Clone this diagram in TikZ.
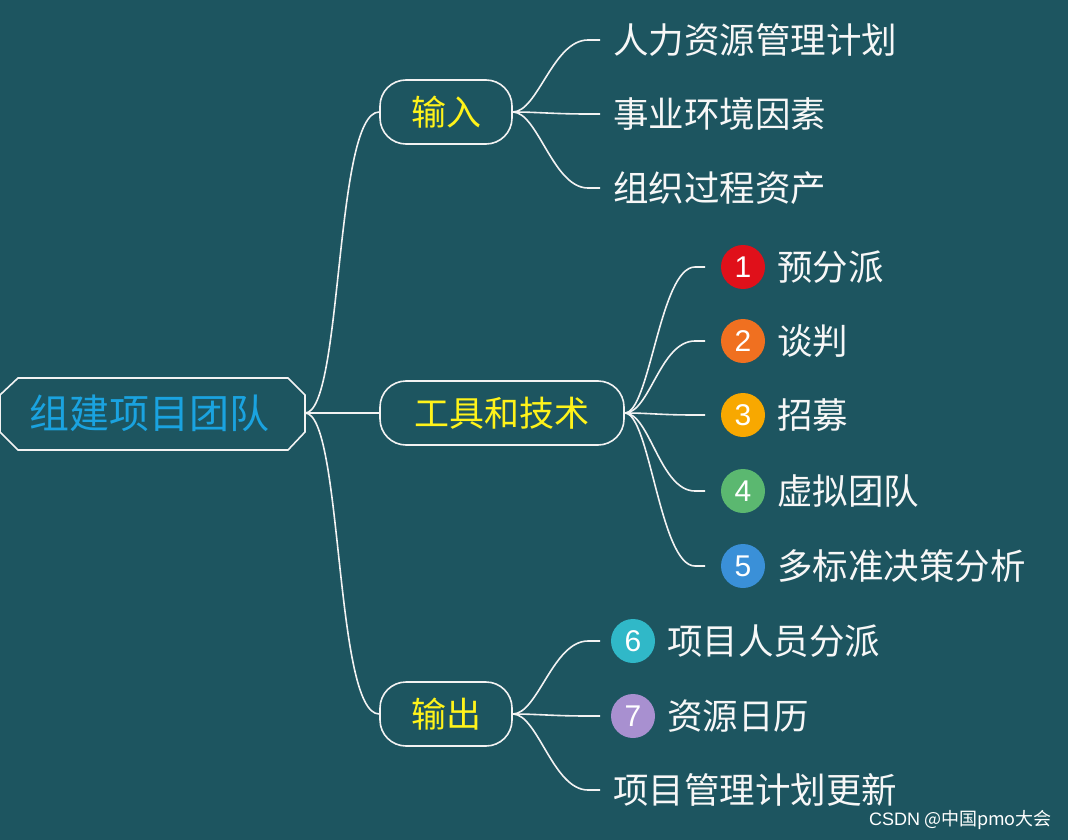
\documentclass[tikz,border=0pt]{standalone}
\usepackage{fontspec}
\setmainfont{Noto Sans CJK SC}
\setsansfont{Liberation Sans}
\begin{document}
\begin{tikzpicture}[x=1pt,y=-1pt,
  line/.style={draw=white!90!gray,line width=1.6pt},
  br/.style={draw=white!90!gray,line width=1.6pt,rounded corners=26pt,minimum height=64pt,text=yellow!90!white,font=\fontsize{35}{36}\selectfont,inner xsep=0pt},
  leaf/.style={anchor=west,text=white!94!gray,font=\fontsize{35.5}{36}\selectfont,inner sep=0pt},
  badge/.style={circle,minimum size=44pt,inner sep=0pt,text=white,font=\sffamily\fontsize{30}{32}\selectfont}]
\definecolor{bg}{HTML}{1D5560}
\definecolor{rootc}{HTML}{1AA3E0}
\fill[bg] (0,0) rectangle (1068,840);
\useasboundingbox (0,0) rectangle (1068,840);
% root
\draw[line] (18,378) -- (288,378) -- (305,395) -- (305,432) -- (288,450) -- (18,450) -- (0,432) -- (0,395) -- cycle;
\node[text=rootc,font=\fontsize{40}{40}\selectfont] (root) at (149,413) {组建项目团队};
\coordinate (r) at (305,413);
% branches
\node[br,minimum width=132pt] (in) at (446,112) {输入};
\node[br,minimum width=244pt] (tt) at (502,413) {工具和技术};
\node[br,minimum width=132pt] (out) at (446,714) {输出};
\foreach \b in {in,tt,out} \draw[line] (r) .. controls +(38,0) and +(-45,0) .. (\b.west);
% input leaves
\foreach \n/\y/\t in {a/40/人力资源管理计划,b/114/事业环境因素,c/188/组织过程资产}{
  \node[leaf] (\n) at (613,\y) {\t};
  \coordinate (\n e) at (588,\y);
  \draw[line] (in.east) .. controls +(25,0) and +(-35,0) .. (\n e) -- ++(12,0);
}
% tools
\definecolor{c1}{HTML}{E0101A}\definecolor{c2}{HTML}{F07020}\definecolor{c3}{HTML}{F8A800}
\definecolor{c4}{HTML}{5BB870}\definecolor{c5}{HTML}{3A90D8}\definecolor{c6}{HTML}{30B8C8}\definecolor{c7}{HTML}{A890D0}
\foreach \n/\y/\t in {1/267/预分派,2/341/谈判,3/415/招募,4/491/虚拟团队,5/566/多标准决策分析}{
  \node[badge,fill=c\n] (b\n) at (743,\y) {\n};
  \node[leaf] (t\n) at (777,\y) {\t};
  \coordinate (k\n) at (695,\y);
  \draw[line] (tt.east) .. controls +(25,0) and +(-35,0) .. (k\n) -- ++(10,0);
}
% outputs
\foreach \n/\y/\t in {6/641/项目人员分派,7/716/资源日历}{
  \node[badge,fill=c\n] (b\n) at (633,\y) {\n};
  \node[leaf] (t\n) at (667,\y) {\t};
  \coordinate (k\n) at (588,\y);
  \draw[line] (out.east) .. controls +(25,0) and +(-35,0) .. (k\n) -- ++(12,0);
}
\node[leaf] (o3) at (613,790) {项目管理计划更新};
\coordinate (k8) at (588,790);
\draw[line] (out.east) .. controls +(25,0) and +(-35,0) .. (k8) -- ++(12,0);
\node[anchor=east,text=white,font=\fontsize{18}{19}\selectfont,inner sep=0pt] (wm) at (1052,820) {\textsf{CSDN} @中国pmo大会};
\end{tikzpicture}
\end{document}
